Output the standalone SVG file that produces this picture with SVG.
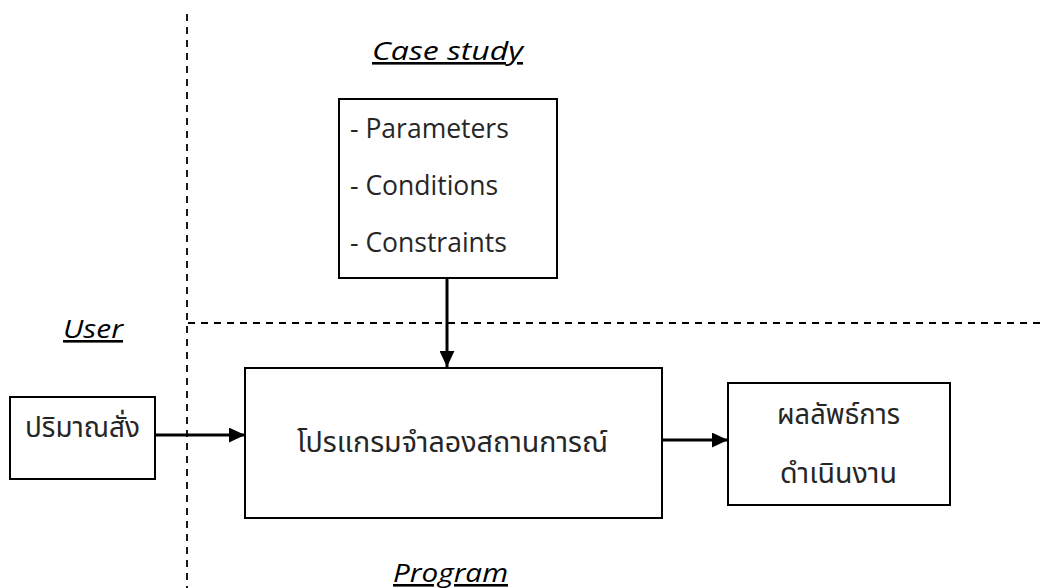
<svg xmlns="http://www.w3.org/2000/svg" width="1045" height="588" viewBox="0 0 1045 588">
  <style>
    .box { fill: #ffffff; stroke: #000000; stroke-width: 2; }
    .guide { fill: none; stroke: #000000; stroke-width: 1.8; stroke-dasharray: 7 6; }
    .link { fill: none; stroke: #000000; stroke-width: 3; }
    .en { font-family: "Open Sans", "Noto Sans", "Liberation Sans", sans-serif; font-size: 26.5px; fill: #262626; }
    .th { font-family: "Noto Sans Thai", "Leelawadee UI", Tahoma, "Noto Sans", "DejaVu Sans", sans-serif; font-size: 29px; fill: #262626; }
    .title { font-family: "Open Sans", "Noto Sans", "Liberation Sans", sans-serif; font-size: 26px; font-style: italic; fill: #000000; text-decoration: underline; }
  </style>
  <defs>
    <marker id="arrow" markerWidth="5.4" markerHeight="5" refX="5.4" refY="2.5" orient="auto" markerUnits="strokeWidth">
      <path d="M0,0 L5.4,2.5 L0,5 Z" fill="#000000"/>
    </marker>
  </defs>

  <rect width="1045" height="588" fill="#ffffff"/>

  <!-- region dividers -->
  <g id="dividers">
    <line class="guide" x1="187" y1="14" x2="187" y2="588"/>
    <line class="guide" x1="188" y1="323" x2="1045" y2="323"/>
  </g>

  <!-- region titles -->
  <g id="titles">
    <text class="title" x="372" y="60" textLength="151" lengthAdjust="spacingAndGlyphs">Case study</text>
    <text class="title" x="63" y="338" textLength="60" lengthAdjust="spacingAndGlyphs">User</text>
    <text class="title" x="393" y="582" textLength="115" lengthAdjust="spacingAndGlyphs">Program</text>
  </g>

  <!-- connectors -->
  <g id="connectors">
    <line class="link" x1="447" y1="278" x2="447" y2="367" marker-end="url(#arrow)"/>
    <line class="link" x1="155" y1="435" x2="245" y2="435" marker-end="url(#arrow)"/>
    <line class="link" x1="662" y1="440" x2="728" y2="440" marker-end="url(#arrow)"/>
  </g>

  <g id="case-study">
    <rect class="box" x="339" y="99" width="218" height="179"/>
    <text class="en" x="350" y="138">- Parameters</text>
    <text class="en" x="350" y="195">- Conditions</text>
    <text class="en" x="350" y="252">- Constraints</text>
  </g>

  <g id="order-quantity">
    <rect class="box" x="10" y="397" width="145" height="82"/>
    <text class="th" x="25" y="437" textLength="115" lengthAdjust="spacingAndGlyphs">ปริมาณสั่ง</text>
  </g>

  <g id="simulation-program">
    <rect class="box" x="245" y="368" width="417" height="150"/>
    <text class="th" x="297" y="452" textLength="311" lengthAdjust="spacingAndGlyphs">โปรแกรมจำลองสถานการณ์</text>
  </g>

  <g id="results">
    <rect class="box" x="728" y="383" width="222" height="122"/>
    <text class="th" x="777" y="424" textLength="123" lengthAdjust="spacingAndGlyphs">ผลลัพธ์การ</text>
    <text class="th" x="780" y="483" textLength="117" lengthAdjust="spacingAndGlyphs">ดำเนินงาน</text>
  </g>
</svg>
